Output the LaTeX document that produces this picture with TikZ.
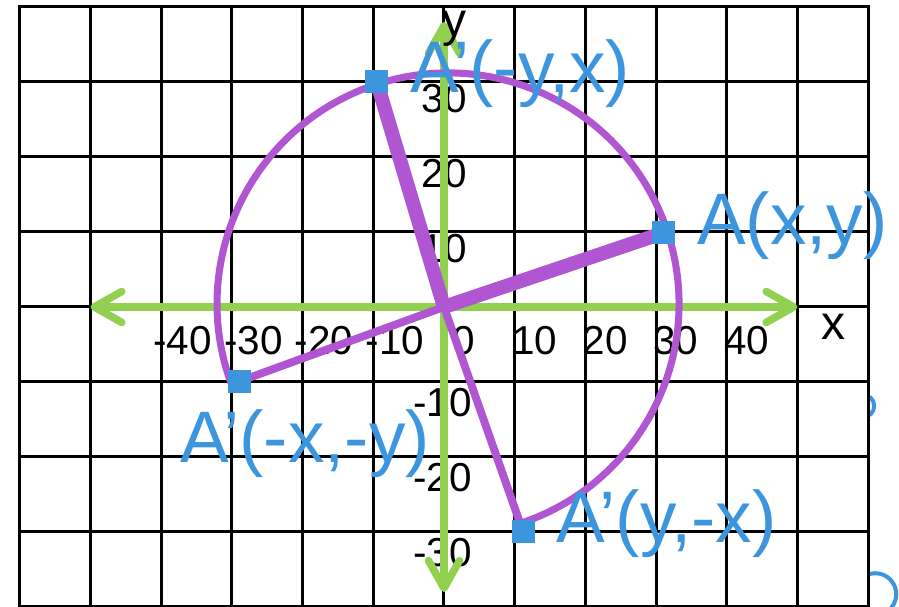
\documentclass[tikz,border=0pt]{standalone}
\usepackage{fontspec}
\setmainfont{Liberation Sans}
\usetikzlibrary{arrows.meta}
\definecolor{axgreen}{RGB}{146,208,80}
\definecolor{ringpurple}{RGB}{176,86,210}
\definecolor{ptblue}{RGB}{61,150,221}

\begin{document}
\begin{tikzpicture}[
  x=1.414cm, y=1.5cm,
  gridline/.style={line width=1.7pt},
  axis/.style={draw=axgreen, line width=4.3pt,
    {Straight Barb[length=0.55cm,width=0.62cm,round]}-{Straight Barb[length=0.55cm,width=0.62cm,round]}},
  tick/.style={anchor=base west, inner sep=0pt, font=\fontsize{23}{27}\selectfont},
  axlbl/.style={anchor=base west, inner sep=0pt, font=\fontsize{27.3}{32}\selectfont},
  ring/.style={draw=ringpurple, line width=4pt},
  ray/.style={draw=ringpurple, line width=4.5pt},
  thickray/.style={draw=ringpurple, line width=8pt},
  sq/.style={fill=ptblue, minimum size=0.46cm, inner sep=0pt},
  lbl/.style={anchor=base west, inner sep=0pt, text=ptblue, font=\fontsize{41.5}{50}\selectfont},
  blob/.style={draw=ptblue, line width=2.3pt}
]
\fill[white] (-6.28,-4.0) rectangle (6.436,4.093);
\useasboundingbox (-6.28,-4.0) rectangle (6.436,4.093);
\draw[blob] (5.93,-1.32) circle[radius=0.22cm];
\draw[blob] (6.10,-3.83) circle[radius=0.42cm];
\fill[white] (-6,-4) rectangle (6,4);
\foreach \i in {-6,...,6} \draw[gridline] (\i,-4) -- (\i,4);
\foreach \j in {-4,...,4} \draw[gridline] (-6,\j) -- (6,\j);
\draw[gridline] (-6,-4) rectangle (6,4);

\foreach \v in {-4,...,-1} \node[tick] (tx\v) at ([xshift=-0.16cm]\v,-0.64) {\the\numexpr\v*10\relax};
\node[tick] (tx0) at ([xshift=0.16cm]0,-0.64) {0};
\foreach \v in {1,...,4} \node[tick] (tx\v) at ([xshift=-0.06cm]\v,-0.64) {\the\numexpr\v*10\relax};
\foreach \v in {1,...,3} \node[tick] (ty\v) at ([xshift=-0.45cm]0,\v-0.413) {\the\numexpr\v*10\relax};
\foreach \v in {-3,...,-1} \node[tick] (ty\v) at ([xshift=-0.62cm]0,\v-0.467) {\the\numexpr\v*10\relax};

\draw[axis] (-5,0) -- (5,0);
\draw[axis] (0,3.8) -- (0,-3.8);
\node[axlbl] (xl) at (5.33,-0.44) {x};
\node[axlbl] (yl) at (-0.03,3.6) {y};

\coordinate (o) at (0,0);
\coordinate (pa) at (3.11,0.99);
\coordinate (pb) at (-0.95,3);
\coordinate (pc) at (-2.89,-0.99);
\coordinate (pd) at (1.12,-3);
\draw[ring] ([shift={(-72:4.62cm)}]0.057,0.04) arc[start angle=-72, end angle=200, radius=4.62cm];
\draw[thickray] (o) -- (pa);
\draw[thickray] (o) -- (pb);
\draw[ray] (o) -- (pc);
\draw[ray] (o) -- (pd);

\node[sq] (a) at (pa) {};
\node[sq] (b) at (pb) {};
\node[sq] (c) at (pc) {};
\node[sq] (d) at (pd) {};
\node[lbl] (la) at ([shift={(0.66cm,-0.24cm)}]a.center) {A(x,y)};
\node[lbl] (lb) at ([shift={(0.66cm,-0.22cm)}]b.center) {A’(-y,x)};
\node[lbl] (lc) at ([shift={(-1.2cm,-1.62cm)}]c.center) {A’(-x,-y)};
\node[lbl] (ld) at ([shift={(0.66cm,-0.22cm)}]d.center) {A’(y,-x)};
\end{tikzpicture}
\end{document}
